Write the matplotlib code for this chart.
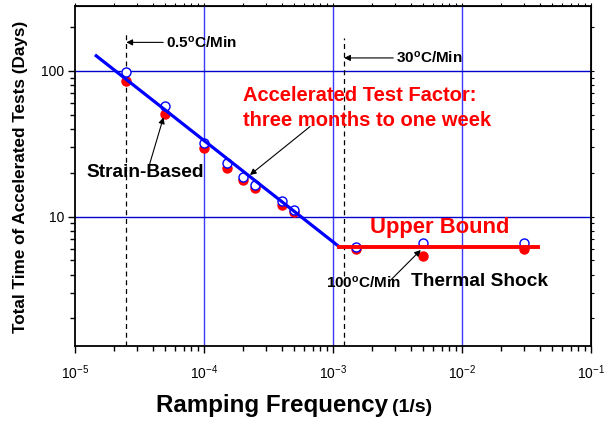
import numpy as np
import matplotlib.pyplot as plt
from matplotlib.ticker import LogLocator, NullFormatter, FixedLocator, FixedFormatter

plt.rcParams['font.family'] = ['Liberation Sans', 'DejaVu Sans']
plt.rcParams['mathtext.default'] = 'regular'

# Strain-based tests (ramping frequency in 1/s, total time in days)
f_strain = [2.5e-5, 5e-5, 1e-4, 1.5e-4, 2e-4, 2.5e-4, 4e-4, 5e-4]
days_strain_open = [99, 57, 32, 23.2, 18.8, 16.4, 12.7, 11.1]
days_strain_fill = [85, 51, 29.5, 21.7, 17.9, 15.6, 12.0, 10.7]

# Thermal shock tests
f_shock = [1.5e-3, 5e-3, 3e-2]
days_shock_open = [6.2, 6.6, 6.6]
days_shock_fill = [6.0, 5.4, 6.0]

# Fitted trend and upper bound
fit_f = [1.46e-5, 1.12e-3]
fit_days = [127, 6.2]
bound_f = [1.12e-3, 3.86e-2]
bound_days = [6.2, 6.2]

# Ramp rate markers
rate_f = [2.5e-5, 1.22e-3]

xticks = [1e-5, 1e-4, 1e-3, 1e-2, 1e-1]
xticklabels = ['$10^{-5}$', '$10^{-4}$', '$10^{-3}$', '$10^{-2}$', '$10^{-1}$']
yticks = [10, 100]
yticklabels = ['10', '100']

fig = plt.figure(figsize=(6.15, 4.21), dpi=100)
ax = fig.add_axes([75/615, 1-345.7/421, (591-75)/615, (345.7-6)/421])
ax.set_xscale('log')
ax.set_yscale('log')
ax.set_xlim(1e-5, 1e-1)
ax.set_ylim(1.3, 279)

# grid lines
for xv in [1e-4, 1e-3, 1e-2]:
    ax.axvline(xv, color='#3a3aff', lw=1.0, zorder=1)
for yv in [10, 100]:
    ax.axhline(yv, color='#0000cc', lw=1.0, zorder=1)

ax.plot([rate_f[0]]*2, [1.3, 186], ls=(0, (4, 3)), color='black', lw=0.9, zorder=2)
ax.plot([rate_f[1]]*2, [1.3, 168], ls=(0, (4, 3)), color='black', lw=0.9, zorder=2)

ax.plot(f_strain, days_strain_fill, 'o', color='red', ms=6.5, zorder=3)
ax.plot(f_shock, days_shock_fill, 'o', color='red', ms=6.5, zorder=3)
ax.plot(f_strain, days_strain_open, 'o', mfc='white', mec='blue', mew=1.0, ms=6.5, zorder=4)
ax.plot(f_shock, days_shock_open, 'o', mfc='white', mec='blue', mew=1.0, ms=6.5, zorder=4)

ax.plot(fit_f, fit_days, color='blue', lw=2.3, zorder=5)
ax.plot(bound_f, bound_days, color='red', lw=2.8, zorder=5)

arr = dict(arrowstyle='-|>', color='black', lw=0.8, mutation_scale=9, shrinkA=0, shrinkB=0)

ax.annotate('0.5$^{o}$C/Min', xy=(rate_f[0], 157), xytext=(5.07e-5, 157),
            ha='left', va='center', fontsize=11, fontweight='bold', arrowprops=arr)
ax.annotate('30$^{o}$C/Min', xy=(rate_f[1], 122.8), xytext=(3.08e-3, 122.8),
            ha='left', va='center', fontsize=11, fontweight='bold', arrowprops=arr)
ax.annotate('', xy=(2.27e-4, 19.3), xytext=(6.64e-4, 41.5), arrowprops=arr)
ax.text(2.0e-4, 67.4, 'Accelerated Test Factor:', color='red', fontsize=14.5,
        fontweight='bold', ha='left', va='center')
ax.text(2.0e-4, 45.4, 'three months to one week', color='red', fontsize=14.5,
        fontweight='bold', ha='left', va='center')
ax.annotate('', xy=(4.85e-5, 48), xytext=(3.77e-5, 22.6), arrowprops=arr)
ax.text(3.49e-5, 19.95, 'Strain-Based', fontsize=13.8, fontweight='bold',
        ha='center', va='center')
ax.text(6.75e-3, 8.37, 'Upper Bound', color='red', fontsize=15.8,
        fontweight='bold', ha='center', va='center')
ax.annotate('', xy=(4.79e-3, 5.9), xytext=(2.77e-3, 3.63), arrowprops=arr)
ax.text(1.71e-3, 3.52, '100$^{o}$C/Min', fontsize=11, fontweight='bold',
        ha='center', va='center')
ax.text(1.355e-2, 3.58, 'Thermal Shock', fontsize=13.8, fontweight='bold',
        ha='center', va='center')

# axis ticks
ax.xaxis.set_major_locator(FixedLocator(xticks))
ax.xaxis.set_major_formatter(FixedFormatter(xticklabels))
ax.xaxis.set_minor_locator(LogLocator(base=10, subs=np.arange(2, 10)))
ax.xaxis.set_minor_formatter(NullFormatter())
ax.yaxis.set_major_locator(FixedLocator(yticks))
ax.yaxis.set_major_formatter(FixedFormatter(yticklabels))
ax.yaxis.set_minor_locator(LogLocator(base=10, subs=np.arange(2, 10)))
ax.yaxis.set_minor_formatter(NullFormatter())
ax.tick_params(which='major', direction='out', length=5, width=1, labelsize=10)
ax.tick_params(which='minor', direction='out', length=3.5, width=1)
ax.tick_params(axis='x', pad=8)
ax.tick_params(axis='y', pad=3)
for s in ax.spines.values():
    s.set_linewidth(1.3)

# short mirror ticks on the top and right frame
top = ax.secondary_xaxis('top')
top.set_xticks(xticks)
top.xaxis.set_minor_locator(LogLocator(base=10, subs=np.arange(2, 10)))
top.tick_params(which='both', direction='out', length=2, width=0.8,
                labeltop=False)
top.xaxis.set_minor_formatter(NullFormatter())
right = ax.secondary_yaxis('right')
right.set_yticks(yticks)
right.yaxis.set_minor_locator(LogLocator(base=10, subs=np.arange(2, 10)))
right.tick_params(which='both', direction='out', length=2, width=0.8,
                  labelright=False)
right.yaxis.set_minor_formatter(NullFormatter())

fig.text(21/615, 1-177/421, 'Total Time of Accelerated Tests (Days)', rotation=90,
         ha='center', va='center', fontsize=12.3, fontweight='bold')
fig.text(388/615, 1-412/421, 'Ramping Frequency', ha='right', va='baseline',
         fontsize=17.4, fontweight='bold')
fig.text(392/615, 1-412/421, '(1/s)', ha='left', va='baseline',
         fontsize=14, fontweight='bold')

fig.savefig('out.png', dpi=100)
